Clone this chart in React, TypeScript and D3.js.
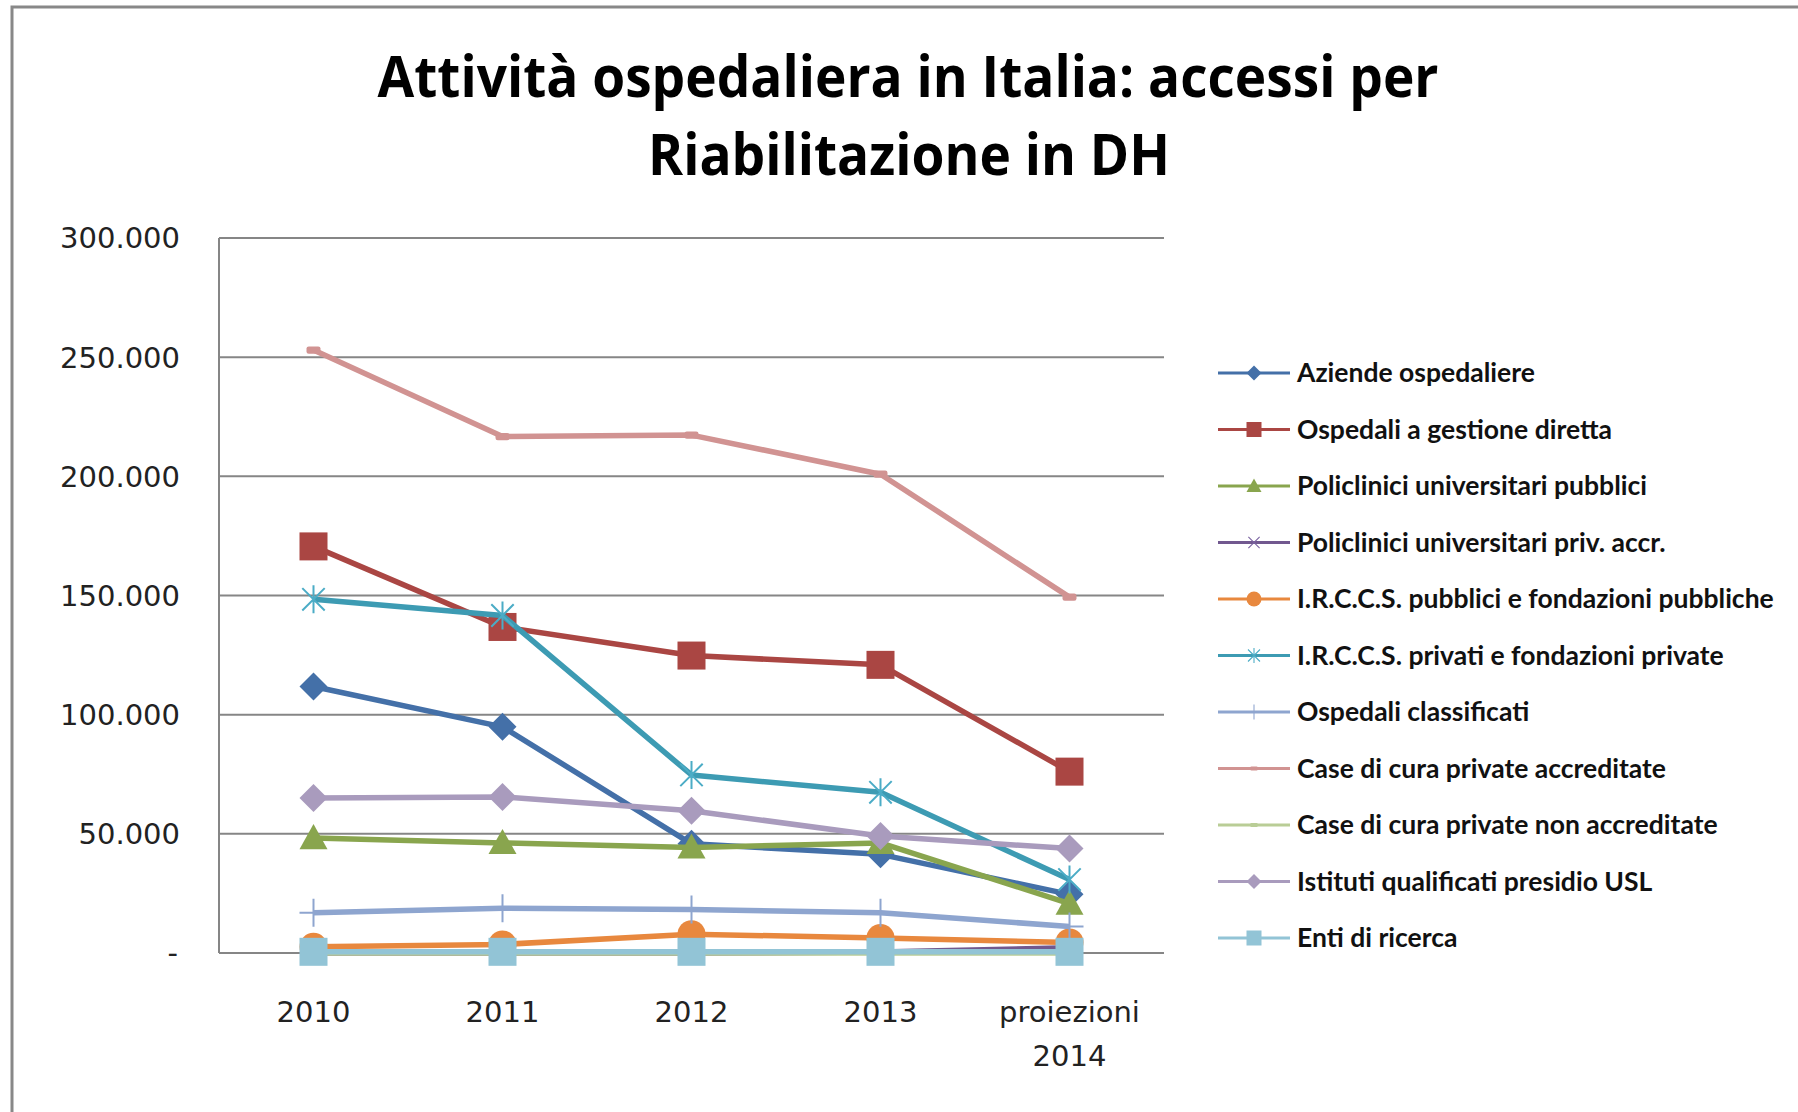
import * as d3 from 'd3';

const categories = ['2010', '2011', '2012', '2013', 'proiezioni 2014'];
const yTicks = [0, 50000, 100000, 150000, 200000, 250000, 300000];

const seriesNames = [
  'Aziende ospedaliere',
  'Ospedali a gestione diretta',
  'Policlinici universitari pubblici',
  'Policlinici universitari priv. accr.',
  'I.R.C.C.S. pubblici e fondazioni pubbliche',
  'I.R.C.C.S. privati e fondazioni private',
  'Ospedali classificati',
  'Case di cura private accreditate',
  'Case di cura private non accreditate',
  'Istituti qualificati presidio USL',
  'Enti di ricerca',
];

const aziende = [111800, 94900, 45800, 41400, 24600];
const ospedaliDiretta = [170600, 136800, 124800, 120900, 76100];
const policliniciPubblici = [48200, 46200, 44300, 46200, 20700];
const policliniciPriv = [0, 0, 0, 400, 2200];
const irccsPubblici = [2600, 3600, 7900, 6300, 4400];
const irccsPrivati = [148400, 141600, 74700, 67400, 30800];
const ospedaliClassificati = [16900, 18800, 18300, 16900, 11100];
const caseAccreditate = [253000, 216700, 217300, 200900, 149300];
const caseNonAccreditate = [0, 0, 0, 0, 0];
const istituti = [65000, 65500, 59700, 49100, 43800];
const enti = [500, 500, 500, 500, 500];

const values = [
  aziende, ospedaliDiretta, policliniciPubblici, policliniciPriv, irccsPubblici,
  irccsPrivati, ospedaliClassificati, caseAccreditate, caseNonAccreditate, istituti, enti,
];

const lineColors = ['#4470A8', '#AA4643', '#89A54E', '#71588F', '#E8883E', '#3D9BB3', '#8EA5CF', '#D19392', '#B9CD96', '#A99BBD', '#92C4D6'];
const markerColors = ['#4470A8', '#AA4643', '#89A54E', '#7A62A0', '#E8883E', '#4BACC6', '#8EA5CF', '#D19392', '#B9CD96', '#A99BBD', '#92C4D6'];
const markerTypes = ['diamond', 'square', 'triangle', 'x', 'circle', 'star', 'plus', 'dash', 'dash', 'diamond', 'square'];

const W = 1798;
const H = 1112;
const plot = { left: 219, right: 1164, top: 238, bottom: 953 };

const x = d3.scalePoint<string>().domain(categories).range([plot.left, plot.right]).padding(0.5);
const y = d3.scaleLinear().domain([0, 300000]).range([plot.bottom, plot.top]);

const itLocale = d3.formatLocale({ decimal: ',', thousands: '.', grouping: [3], currency: ['€', ''] });
const fmt = (v: number) => (v === 0 ? '-' : itLocale.format(',')(v));

function Marker({ type, cx, cy, color, s }: { type: string; cx: number; cy: number; color: string; s: number }) {
  const h = s / 2;
  switch (type) {
    case 'diamond':
      return <path d={`M${cx},${cy - h}L${cx + h},${cy}L${cx},${cy + h}L${cx - h},${cy}Z`} fill={color} />;
    case 'square':
      return <rect x={cx - h} y={cy - h} width={s} height={s} fill={color} />;
    case 'triangle':
      return <path d={`M${cx},${cy - h}L${cx + h},${cy + h * 0.8}L${cx - h},${cy + h * 0.8}Z`} fill={color} />;
    case 'circle':
      return <circle cx={cx} cy={cy} r={h} fill={color} />;
    case 'x': {
      const k = h * 0.75;
      return (
        <path d={`M${cx - k},${cy - k}L${cx + k},${cy + k}M${cx - k},${cy + k}L${cx + k},${cy - k}`} stroke={color} strokeWidth={s / 14} fill="none" />
      );
    }
    case 'star': {
      const k = h * 0.8;
      return (
        <path
          d={`M${cx},${cy - h}L${cx},${cy + h}M${cx - k},${cy - k}L${cx + k},${cy + k}M${cx - k},${cy + k}L${cx + k},${cy - k}`}
          stroke={color}
          strokeWidth={s / 14}
          fill="none"
        />
      );
    }
    case 'plus':
      return <path d={`M${cx - h},${cy}L${cx + h},${cy}M${cx},${cy - h}L${cx},${cy + h}`} stroke={color} strokeWidth={s / 14} fill="none" />;
    case 'dash':
      return <rect x={cx - s * 0.25} y={cy - s * 0.13} width={s * 0.5} height={s * 0.26} rx={s * 0.08} fill={color} />;
    default:
      return null;
  }
}

export default function App() {
  const line = d3
    .line<number>()
    .x((_, i) => x(categories[i])!)
    .y((d) => y(d));

  const legendX = 1218;
  const legendTop = 373;
  const legendStep = 56.5;

  return (
    <svg width={W} height={H} style={{ position: 'absolute', left: 0, top: 0, background: '#fff' }}>
      {/* chart frame */}
      <path d={`M12,${H}L12,7L${W},7`} stroke="#888" strokeWidth={3} fill="none" />

      {/* title */}
      <g fontFamily="'Open Sans', sans-serif" fontWeight={700} fontSize={58} fill="#000" textAnchor="middle">
        <text x={908} y={97} textLength={1061} lengthAdjust="spacingAndGlyphs">
          Attività ospedaliera in Italia: accessi per
        </text>
        <text x={909} y={175} textLength={522} lengthAdjust="spacingAndGlyphs">
          Riabilitazione in DH
        </text>
      </g>

      {/* gridlines */}
      {yTicks.map((t) => (
        <line key={t} x1={plot.left} x2={plot.right} y1={y(t)} y2={y(t)} stroke="#868686" strokeWidth={2} />
      ))}
      <line x1={plot.left} x2={plot.left} y1={plot.top} y2={plot.bottom} stroke="#868686" strokeWidth={2} />

      {/* y labels */}
      <g fontFamily="'DejaVu Sans', sans-serif" fontSize={29} fill="#222" textAnchor="end">
        {yTicks.map((t) => (
          <text key={t} x={t === 0 ? 178 : 180} y={y(t)} dy="0.36em">
            {fmt(t)}
          </text>
        ))}
      </g>

      {/* x labels */}
      <g fontFamily="'DejaVu Sans', sans-serif" fontSize={29} fill="#222" textAnchor="middle">
        {categories.map((c) => {
          const parts = c.split(' ');
          return (
            <text key={c} x={x(c)!} y={1022}>
              {parts.map((p, i) => (
                <tspan key={p} x={x(c)!} dy={i === 0 ? 0 : 44}>
                  {p}
                </tspan>
              ))}
            </text>
          );
        })}
      </g>

      {/* series */}
      {values.map((vals, si) => (
        <g key={seriesNames[si]}>
          <path d={line(vals)!} stroke={lineColors[si]} strokeWidth={5.5} fill="none" strokeLinejoin="round" />
          {vals.map((v, i) => (
            <Marker key={i} type={markerTypes[si]} cx={x(categories[i])!} cy={y(v)} color={markerColors[si]} s={28} />
          ))}
        </g>
      ))}

      {/* legend */}
      {seriesNames.map((name, i) => {
        const cy = legendTop + i * legendStep;
        return (
          <g key={name}>
            <line x1={legendX} x2={legendX + 72} y1={cy} y2={cy} stroke={lineColors[i]} strokeWidth={3} />
            <Marker type={markerTypes[i]} cx={legendX + 36} cy={cy} color={markerColors[i]} s={15} />
            <g transform={`translate(${legendX + 79},${cy}) scale(1.02,1)`}>
              <text x={0} y={0} dy="0.35em" fontFamily="Lato, sans-serif" fontWeight={700} fontSize={26} fill="#111">
                {name}
              </text>
            </g>
          </g>
        );
      })}
    </svg>
  );
}
